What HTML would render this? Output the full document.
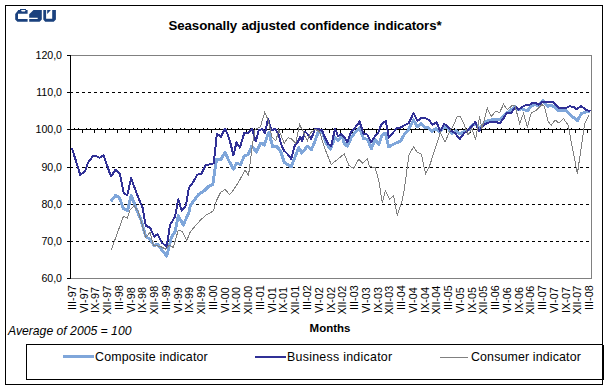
<!DOCTYPE html>
<html><head><meta charset="utf-8"><style>
html,body{margin:0;padding:0;background:#fff;width:609px;height:390px;overflow:hidden}
svg{display:block}
</style></head><body>
<svg width="609" height="390" viewBox="0 0 609 390">
<rect x="5.5" y="5.5" width="597" height="379" fill="none" stroke="#000" stroke-width="1"/>
<rect x="70.5" y="55.5" width="521" height="223" fill="none" stroke="#808080" stroke-width="1"/>
<line x1="70" y1="92.5" x2="591" y2="92.5" stroke="#000" stroke-width="1" stroke-dasharray="3,3"/>
<line x1="70" y1="167.5" x2="591" y2="167.5" stroke="#000" stroke-width="1" stroke-dasharray="3,3"/>
<line x1="70" y1="204.5" x2="591" y2="204.5" stroke="#000" stroke-width="1" stroke-dasharray="3,3"/>
<line x1="70" y1="241.5" x2="591" y2="241.5" stroke="#000" stroke-width="1" stroke-dasharray="3,3"/>
<line x1="67" y1="55.5" x2="70" y2="55.5" stroke="#000" stroke-width="1"/>
<line x1="67" y1="92.5" x2="70" y2="92.5" stroke="#000" stroke-width="1"/>
<line x1="67" y1="129.5" x2="70" y2="129.5" stroke="#000" stroke-width="1"/>
<line x1="67" y1="167.5" x2="70" y2="167.5" stroke="#000" stroke-width="1"/>
<line x1="67" y1="204.5" x2="70" y2="204.5" stroke="#000" stroke-width="1"/>
<line x1="67" y1="241.5" x2="70" y2="241.5" stroke="#000" stroke-width="1"/>
<line x1="67" y1="278.5" x2="70" y2="278.5" stroke="#000" stroke-width="1"/>
<line x1="70.5" y1="55" x2="70.5" y2="279" stroke="#000" stroke-width="1"/>
<line x1="70" y1="129.5" x2="591" y2="129.5" stroke="#000" stroke-width="1"/>
<path d="M74.5 128v1M78.5 128v1M82.5 130v3M86.5 128v1M90.5 128v1M94.5 130v3M97.5 128v1M101.5 128v1M105.5 130v3M109.5 128v1M113.5 128v1M117.5 130v3M121.5 128v1M125.5 128v1M129.5 130v3M133.5 128v1M137.5 128v1M141.5 130v3M144.5 128v1M148.5 128v1M152.5 130v3M156.5 128v1M160.5 128v1M164.5 130v3M168.5 128v1M172.5 128v1M176.5 130v3M180.5 128v1M184.5 128v1M188.5 130v3M191.5 128v1M195.5 128v1M199.5 130v3M203.5 128v1M207.5 128v1M211.5 130v3M215.5 128v1M219.5 128v1M223.5 130v3M227.5 128v1M231.5 128v1M235.5 130v3M238.5 128v1M242.5 128v1M246.5 130v3M250.5 128v1M254.5 128v1M258.5 130v3M262.5 128v1M266.5 128v1M270.5 130v3M274.5 128v1M278.5 128v1M282.5 130v3M285.5 128v1M289.5 128v1M293.5 130v3M297.5 128v1M301.5 128v1M305.5 130v3M309.5 128v1M313.5 128v1M317.5 130v3M321.5 128v1M325.5 128v1M329.5 130v3M332.5 128v1M336.5 128v1M340.5 130v3M344.5 128v1M348.5 128v1M352.5 130v3M356.5 128v1M360.5 128v1M364.5 130v3M368.5 128v1M372.5 128v1M376.5 130v3M379.5 128v1M383.5 128v1M387.5 130v3M391.5 128v1M395.5 128v1M399.5 130v3M403.5 128v1M407.5 128v1M411.5 130v3M415.5 128v1M419.5 128v1M423.5 130v3M426.5 128v1M430.5 128v1M434.5 130v3M438.5 128v1M442.5 128v1M446.5 130v3M450.5 128v1M454.5 128v1M458.5 130v3M462.5 128v1M466.5 128v1M470.5 130v3M473.5 128v1M477.5 128v1M481.5 130v3M485.5 128v1M489.5 128v1M493.5 130v3M497.5 128v1M501.5 128v1M505.5 130v3M509.5 128v1M513.5 128v1M517.5 130v3M520.5 128v1M524.5 128v1M528.5 130v3M532.5 128v1M536.5 128v1M540.5 130v3M544.5 128v1M548.5 128v1M552.5 130v3M556.5 128v1M560.5 128v1M564.5 130v3M567.5 128v1M571.5 128v1M575.5 130v3M579.5 128v1M583.5 128v1M587.5 130v3" stroke="#000" stroke-width="1" fill="none"/>
<polyline points="110.7,201.5 115.6,195.4 119.3,197.4 123.4,208.7 127.5,210.8 131.2,195.4 137.5,211.7 141.0,220.0 145.8,236.7 150.0,239.2 154.2,245.8 157.5,244.2 162.5,250.8 166.7,256.0 171.7,236.7 175.0,231.7 178.3,215.8 183.3,225.0 189.2,211.7 190.3,205.6 198.5,194.4 203.6,191.3 208.7,186.2 212.8,184.5 216.5,159.2 221.0,159.2 225.0,152.3 228.1,159.2 233.5,169.2 236.5,163.1 240.4,164.6 244.2,156.2 248.1,154.6 251.9,146.0 256.5,152.3 260.4,143.1 264.2,145.0 268.8,132.3 272.7,146.9 276.5,146.2 280.4,150.8 284.2,162.3 291.2,166.9 295.0,156.9 298.8,147.7 301.9,153.1 307.3,146.2 311.2,150.0 314.2,143.1 318.1,132.3 322.7,133.1 325.8,142.3 330.4,149.2 335.0,137.7 338.1,140.8 341.9,135.4 344.2,143.1 347.3,146.2 351.2,137.7 355.0,132.3 359.6,127.7 363.5,138.5 367.3,139.2 371.5,148.5 375.0,139.2 378.8,144.6 381.9,135.4 385.3,133.1 388.8,146.9 392.7,144.6 397.3,142.3 400.4,141.5 404.2,134.6 408.8,129.2 413.5,120.0 417.3,126.9 421.2,123.8 425.0,127.7 428.1,127.7 431.9,131.5 435.8,128.5 439.6,131.5 444.2,126.9 448.1,128.5 451.9,133.8 455.8,130.8 459.6,133.8 464.2,131.5 468.8,129.6 472.7,125.0 475.8,124.2 478.8,128.1 481.9,125.8 485.8,121.2 489.6,120.4 493.5,119.6 497.3,119.6 500.4,119.6 503.5,116.5 505.8,113.5 509.6,111.2 515.0,106.5 518.1,109.6 521.2,108.8 527.4,110.8 530.5,106.9 534.3,104.6 538.2,105.4 542.8,100.8 547.4,106.2 552.0,105.4 558.9,110.8 566.6,110.8 572.8,116.9 577.4,120.8 581.2,113.8 585.5,111.9 590.0,111.2" fill="none" stroke="#7fa6da" stroke-width="3" stroke-linejoin="round" shape-rendering="crispEdges"/>
<polyline points="71.9,147.9 80.2,174.8 85.0,171.3 87.7,163.2 93.1,156.0 95.8,156.0 99.4,157.8 103.5,155.1 111.0,176.6 115.5,169.8 120.0,174.0 123.6,192.8 127.2,195.5 131.1,178.1 137.0,194.4 142.5,207.5 145.8,225.8 150.0,227.5 154.2,236.7 157.5,234.2 161.7,242.5 166.7,246.7 170.0,225.0 175.0,216.7 178.3,199.2 181.7,210.8 185.8,205.8 188.8,188.2 193.3,181.8 197.4,174.6 201.5,173.6 205.6,165.4 209.7,164.4 213.8,163.3 216.9,133.6 221.0,136.7 225.0,128.5 228.1,135.4 230.4,143.1 233.5,155.4 236.5,142.3 239.9,147.7 244.2,133.1 248.1,133.1 251.9,128.5 255.8,141.5 258.8,130.0 262.7,129.2 265.0,133.1 268.1,118.5 271.2,130.0 275.0,129.2 278.1,133.1 281.2,144.6 284.2,150.8 288.1,154.6 291.2,159.2 295.0,144.6 298.1,141.5 300.4,136.9 302.2,140.8 305.0,131.5 308.1,134.6 311.2,139.2 315.0,128.5 318.1,129.2 321.9,130.0 325.0,137.7 328.1,143.8 331.2,146.2 335.0,128.5 338.1,136.2 341.2,133.8 344.2,136.9 347.3,142.3 351.2,131.5 355.0,127.7 359.6,121.5 363.5,133.8 367.3,134.6 371.2,142.3 375.0,136.2 378.1,133.1 381.2,124.6 385.8,120.8 388.8,137.7 392.7,133.1 397.3,127.7 400.4,127.7 404.2,125.4 408.8,123.1 413.5,113.1 417.3,120.8 421.9,117.7 425.8,118.5 428.8,120.0 432.7,124.6 436.5,122.3 440.4,131.5 444.2,123.8 448.1,126.9 451.2,130.8 455.0,133.1 459.6,139.2 464.2,133.1 468.8,129.6 471.9,125.8 475.5,121.9 478.8,131.2 481.9,127.3 485.0,124.2 488.1,122.7 492.7,121.9 496.5,121.9 499.6,123.5 502.7,119.6 506.5,113.5 511.2,112.7 515.8,106.5 518.8,109.6 522.0,106.9 525.1,105.4 528.9,105.4 532.0,103.1 535.8,103.1 538.9,104.6 542.8,101.5 547.4,101.5 552.8,101.5 558.9,107.7 566.6,107.7 569.7,106.2 573.5,106.9 576.6,109.2 581.2,106.2 583.5,107.8 586.0,109.9 590.5,111.2" fill="none" stroke="#303096" stroke-width="2" stroke-linejoin="round" shape-rendering="crispEdges"/>
<polyline points="111.1,250.2 123.4,216.5 127.5,218.0 130.0,210.0 134.2,205.8 138.3,211.7 142.3,225.4 145.8,237.5 150.0,232.5 153.3,245.0 160.8,246.7 165.8,249.2 169.2,245.0 173.3,247.5 178.3,230.0 182.5,231.7 186.7,240.8 190.0,232.5 193.3,228.2 201.5,219.0 206.2,215.1 213.3,211.0 216.4,200.8 220.5,192.6 225.0,189.5 229.7,194.6 233.8,189.5 239.0,181.3 245.1,170.0 248.5,175.5 252.7,143.1 255.0,130.0 258.1,127.7 260.4,126.9 264.7,112.3 268.1,120.0 271.9,136.9 275.8,140.8 278.8,130.0 284.2,143.1 288.1,137.7 291.2,138.5 295.8,143.1 299.6,124.6 303.5,132.3 307.3,140.8 310.4,133.1 315.0,129.2 319.6,131.5 324.2,146.9 331.2,164.6 344.2,153.8 348.8,165.4 353.5,168.5 358.8,159.2 362.7,163.1 367.3,158.5 369.6,166.9 375.1,167.2 379.2,182.6 382.3,203.1 385.4,190.8 389.5,199.0 393.6,195.9 397.3,215.4 401.8,202.1 404.2,190.0 409.1,154.1 413.6,147.1 417.4,152.2 421.3,154.1 425.5,173.6 429.0,167.6 436.5,144.6 440.4,132.3 445.0,142.3 449.6,131.5 453.5,125.4 457.3,116.2 460.4,116.9 464.2,124.6 468.1,135.0 471.9,128.8 475.5,139.6 479.6,116.5 481.9,128.8 487.3,108.1 491.2,116.5 495.8,111.2 499.6,112.7 503.5,104.2 507.3,109.6 511.9,105.8 515.0,105.8 519.6,123.5 523.5,113.5 527.4,126.9 531.2,113.1 536.6,110.0 542.0,104.6 544.3,106.2 548.2,121.5 551.2,125.4 555.1,120.0 558.9,123.1 563.5,118.5 568.0,125.0 577.4,173.8 584.6,123.6 588.8,115.3" fill="none" stroke="#808080" stroke-width="1" stroke-linejoin="miter" shape-rendering="crispEdges"/>
<g font-family='"Liberation Sans", sans-serif' font-size="10.6" fill="#000"><text x="62" y="59" text-anchor="end">120,0</text><text x="62" y="96" text-anchor="end">110,0</text><text x="62" y="133" text-anchor="end">100,0</text><text x="62" y="171" text-anchor="end">90,0</text><text x="62" y="208" text-anchor="end">80,0</text><text x="62" y="245" text-anchor="end">70,0</text><text x="62" y="282" text-anchor="end">60,0</text></g>
<g font-family='"Liberation Sans", sans-serif' font-size="10.8" fill="#000"><text transform="translate(75.96,285.3) rotate(-90)" text-anchor="end">III-97</text><text transform="translate(87.71,287.3) rotate(-90)" text-anchor="end">VI-97</text><text transform="translate(99.46,287.1) rotate(-90)" text-anchor="end">IX-97</text><text transform="translate(111.21,285.8) rotate(-90)" text-anchor="end">XII-97</text><text transform="translate(122.97,285.3) rotate(-90)" text-anchor="end">III-98</text><text transform="translate(134.72,287.3) rotate(-90)" text-anchor="end">VI-98</text><text transform="translate(146.47,287.1) rotate(-90)" text-anchor="end">IX-98</text><text transform="translate(158.22,285.8) rotate(-90)" text-anchor="end">XII-98</text><text transform="translate(169.97,285.3) rotate(-90)" text-anchor="end">III-99</text><text transform="translate(181.73,287.3) rotate(-90)" text-anchor="end">VI-99</text><text transform="translate(193.48,287.1) rotate(-90)" text-anchor="end">IX-99</text><text transform="translate(205.23,285.8) rotate(-90)" text-anchor="end">XII-99</text><text transform="translate(216.98,285.3) rotate(-90)" text-anchor="end">III-00</text><text transform="translate(228.73,287.3) rotate(-90)" text-anchor="end">VI-00</text><text transform="translate(240.48,287.1) rotate(-90)" text-anchor="end">IX-00</text><text transform="translate(252.24,285.8) rotate(-90)" text-anchor="end">XII-00</text><text transform="translate(263.99,285.3) rotate(-90)" text-anchor="end">III-01</text><text transform="translate(275.74,287.3) rotate(-90)" text-anchor="end">VI-01</text><text transform="translate(287.49,287.1) rotate(-90)" text-anchor="end">IX-01</text><text transform="translate(299.24,285.8) rotate(-90)" text-anchor="end">XII-01</text><text transform="translate(311.00,285.3) rotate(-90)" text-anchor="end">III-02</text><text transform="translate(322.75,287.3) rotate(-90)" text-anchor="end">VI-02</text><text transform="translate(334.50,287.1) rotate(-90)" text-anchor="end">IX-02</text><text transform="translate(346.25,285.8) rotate(-90)" text-anchor="end">XII-02</text><text transform="translate(358.00,285.3) rotate(-90)" text-anchor="end">III-03</text><text transform="translate(369.76,287.3) rotate(-90)" text-anchor="end">VI-03</text><text transform="translate(381.51,287.1) rotate(-90)" text-anchor="end">IX-03</text><text transform="translate(393.26,285.8) rotate(-90)" text-anchor="end">XII-03</text><text transform="translate(405.01,285.3) rotate(-90)" text-anchor="end">III-04</text><text transform="translate(416.76,287.3) rotate(-90)" text-anchor="end">VI-04</text><text transform="translate(428.52,287.1) rotate(-90)" text-anchor="end">IX-04</text><text transform="translate(440.27,285.8) rotate(-90)" text-anchor="end">XII-04</text><text transform="translate(452.02,285.3) rotate(-90)" text-anchor="end">III-05</text><text transform="translate(463.77,287.3) rotate(-90)" text-anchor="end">VI-05</text><text transform="translate(475.52,287.1) rotate(-90)" text-anchor="end">IX-05</text><text transform="translate(487.27,285.8) rotate(-90)" text-anchor="end">XII-05</text><text transform="translate(499.03,285.3) rotate(-90)" text-anchor="end">III-06</text><text transform="translate(510.78,287.3) rotate(-90)" text-anchor="end">VI-06</text><text transform="translate(522.53,287.1) rotate(-90)" text-anchor="end">IX-06</text><text transform="translate(534.28,285.8) rotate(-90)" text-anchor="end">XII-06</text><text transform="translate(546.03,285.3) rotate(-90)" text-anchor="end">III-07</text><text transform="translate(557.79,287.3) rotate(-90)" text-anchor="end">VI-07</text><text transform="translate(569.54,287.1) rotate(-90)" text-anchor="end">IX-07</text><text transform="translate(581.29,285.8) rotate(-90)" text-anchor="end">XII-07</text><text transform="translate(593.04,285.3) rotate(-90)" text-anchor="end">III-08</text></g>
<g fill="#1a417e"><path d="M20 9H26V10H27.6V13.75H18V19H27.6V21.8H17.4L15.2 19.6V14L18 10.5V10H20Z"/><path d="M21 10H25.6L24.8 11.5H21.8Z" fill="#fff"/><path d="M33.5 10H41.8V19.6L39.6 21.8H29.2V19H37.7V17.7H29.2V14.2Z"/><path d="M43.3 10H46.1V18.8H52.2V10H55.9V19.6L53.7 21.8H45.2L43.3 19.6Z"/><path d="M47.2 10H50.9L47.2 14Z"/></g>
<rect x="26.5" y="344.5" width="576" height="35" fill="#fff" stroke="#000" stroke-width="1"/>
<line x1="603.5" y1="345" x2="603.5" y2="380" stroke="#000" stroke-width="1"/>
<line x1="63" y1="356.5" x2="94" y2="356.5" stroke="#7fa6da" stroke-width="3"/>
<line x1="255" y1="357" x2="286" y2="357" stroke="#303096" stroke-width="2"/>
<line x1="440" y1="357.5" x2="468" y2="357.5" stroke="#808080" stroke-width="1"/>
<g font-family='"Liberation Sans", sans-serif' font-size="12.4" fill="#000"><text x="95" y="361" letter-spacing="0.18">Composite indicator</text><text x="287" y="361" letter-spacing="0.27">Business indicator</text><text x="471" y="361" letter-spacing="0.14">Consumer indicator</text></g>
<text x="305" y="29.7" text-anchor="middle" font-family='"Liberation Sans", sans-serif' font-size="13.3" letter-spacing="-0.08" word-spacing="0.8" font-weight="bold">Seasonally adjusted confidence indicators*</text>
<text x="330" y="332" text-anchor="middle" font-family='"Liberation Sans", sans-serif' font-size="11.5" font-weight="bold">Months</text>
<text x="8" y="335" font-family='"Liberation Sans", sans-serif' font-size="12.2" font-style="italic">Average of 2005 = 100</text>
</svg>
</body></html>
